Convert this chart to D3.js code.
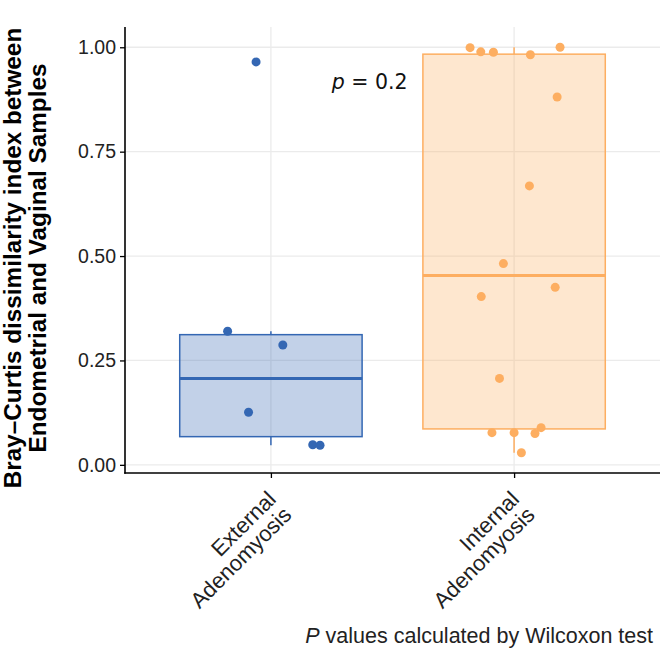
<!DOCTYPE html>
<html>
<head>
<meta charset="utf-8">
<script src="https://cdn.jsdelivr.net/npm/d3@7"></script>
<style>
  body { margin: 0; background: #fff; }
  svg { display: block; font-family: "Liberation Sans", Arial, sans-serif; }
</style>
</head>
<body>
<svg width="661" height="652"></svg>
<script>
var svg = d3.select("svg"),
    width = +svg.attr("width"),
    height = +svg.attr("height");

// groups and colours
var groups = ["External\nAdenomyosis", "Internal\nAdenomyosis"];
var colors = ["#3467b3", "#fdae61"];

// Bray-Curtis values, with the jitter offset of each point (in category units)
var externalValues = [0.965, 0.320, 0.287, 0.126, 0.048, 0.047];
var externalJitter = [-0.061, -0.178, 0.049, -0.092, 0.172, 0.202];
var internalValues = [0.999, 0.989, 0.988, 0.982, 1.000, 0.881, 0.668, 0.482,
                      0.425, 0.403, 0.207, 0.077, 0.077, 0.075, 0.089, 0.029];
var internalJitter = [-0.181, -0.137, -0.085, 0.067, 0.189, 0.177, 0.063, -0.044,
                      0.169, -0.135, -0.060, -0.091, 0.000, 0.086, 0.111, 0.030];

var yTicks = [0, 0.25, 0.5, 0.75, 1];
var pLabel = "0.2";

var series = [
  { group: groups[0], values: externalValues, jitter: externalJitter, color: colors[0] },
  { group: groups[1], values: internalValues, jitter: internalJitter, color: colors[1] }
];

var panel = { left: 125, right: 660, top: 27, bottom: 473 };

var x = d3.scalePoint()
    .domain(groups)
    .range([panel.left, panel.right])
    .padding(0.6);
var step = x.step();

var all = externalValues.concat(internalValues);
var lo = d3.min(all), hi = d3.max(all), pad = (hi - lo) * 0.05;
var y = d3.scaleLinear()
    .domain([lo - pad, hi + pad])
    .range([panel.bottom, panel.top]);

// grid
var grid = svg.append("g").attr("stroke", "#ebebeb").attr("stroke-width", 1.3);
grid.selectAll(".h").data(yTicks).enter().append("line")
    .attr("x1", panel.left).attr("x2", panel.right)
    .attr("y1", function (d) { return y(d); }).attr("y2", function (d) { return y(d); });
grid.selectAll(".v").data(groups).enter().append("line")
    .attr("y1", panel.top).attr("y2", panel.bottom)
    .attr("x1", function (d) { return x(d); }).attr("x2", function (d) { return x(d); });

// boxplots
series.forEach(function (s) {
  var sorted = s.values.slice().sort(d3.ascending);
  var q1 = d3.quantile(sorted, 0.25),
      med = d3.quantile(sorted, 0.5),
      q3 = d3.quantile(sorted, 0.75),
      iqr = q3 - q1;
  var wLo = d3.min(sorted.filter(function (v) { return v >= q1 - 1.5 * iqr; })),
      wHi = d3.max(sorted.filter(function (v) { return v <= q3 + 1.5 * iqr; }));
  var cx = x(s.group), bw = step * 0.75;
  var g = svg.append("g").attr("stroke", s.color);
  g.append("line").attr("x1", cx).attr("x2", cx).attr("y1", y(q3)).attr("y2", y(wHi)).attr("stroke-width", 1.5);
  g.append("line").attr("x1", cx).attr("x2", cx).attr("y1", y(q1)).attr("y2", y(wLo)).attr("stroke-width", 1.5);
  g.append("rect")
    .attr("x", cx - bw / 2).attr("width", bw)
    .attr("y", y(q3)).attr("height", y(q1) - y(q3))
    .attr("fill", s.color).attr("fill-opacity", 0.3)
    .attr("stroke-width", 1.5);
  g.append("line").attr("x1", cx - bw / 2).attr("x2", cx + bw / 2)
    .attr("y1", y(med)).attr("y2", y(med)).attr("stroke-width", 3);

  svg.append("g").selectAll("circle")
    .data(s.values).enter().append("circle")
    .attr("cx", function (d, i) { return cx + s.jitter[i] * step; })
    .attr("cy", function (d) { return y(d); })
    .attr("r", 4.5)
    .attr("fill", s.color);
});

// axes
var yAxis = svg.append("g")
    .attr("transform", "translate(" + panel.left + ",0)")
    .call(d3.axisLeft(y).tickValues(yTicks).tickFormat(d3.format(".2f")).tickSize(5).tickPadding(4));
yAxis.select(".domain").attr("d", "M0," + panel.top + "V" + (panel.bottom + 0.75)).attr("stroke", "#000").attr("stroke-width", 1.6);
yAxis.selectAll(".tick line").attr("stroke", "#000").attr("stroke-width", 1.3);
yAxis.selectAll(".tick text").attr("font-size", 19.5).attr("fill", "#222").attr("font-family", "Liberation Sans, Arial, sans-serif");

var xAxis = svg.append("g")
    .attr("transform", "translate(0," + panel.bottom + ")")
    .call(d3.axisBottom(x).tickSize(5).tickFormat(""));
xAxis.select(".domain").attr("d", "M" + (panel.left - 0.75) + ",0H" + panel.right).attr("stroke", "#000").attr("stroke-width", 1.6);
xAxis.selectAll(".tick line").attr("stroke", "#000").attr("stroke-width", 1.3);

// rotated category labels
groups.forEach(function (gname) {
  var t = svg.append("text")
    .attr("transform", "translate(" + x(gname) + "," + panel.bottom + ") rotate(-45)")
    .attr("text-anchor", "end")
    .attr("font-size", 22)
    .attr("fill", "#222");
  gname.split("\n").forEach(function (line, i) {
    t.append("tspan").attr("x", -15).attr("y", 24 + i * 22).text(line);
  });
});

// y title
var yt = svg.append("text")
    .attr("transform", "translate(21," + ((panel.top + panel.bottom) / 2 + 8) + ") rotate(-90)")
    .attr("text-anchor", "middle")
    .attr("font-weight", "bold")
    .attr("font-size", 24.3)
    .attr("fill", "#000");
yt.append("tspan").attr("x", 0).attr("y", 0).text("Bray\u2013Curtis dissimilarity index between");
yt.append("tspan").attr("x", 0).attr("y", 25).text("Endometrial and Vaginal Samples");

// p value annotation
var pt = svg.append("text")
    .attr("x", x(groups[0]) + step * 0.25)
    .attr("y", y(0.9))
    .attr("font-family", "DejaVu Sans, sans-serif")
    .attr("font-size", 20.5)
    .attr("fill", "#111");
pt.append("tspan").attr("font-style", "italic").text("p");
pt.append("tspan").text(" = " + pLabel);

// caption
var cap = svg.append("text")
    .attr("x", width - 8)
    .attr("y", height - 9)
    .attr("text-anchor", "end")
    .attr("font-size", 21.5)
    .attr("fill", "#222");
cap.append("tspan").attr("font-style", "italic").text("P");
cap.append("tspan").text(" values calculated by Wilcoxon test");
</script>
</body>
</html>
